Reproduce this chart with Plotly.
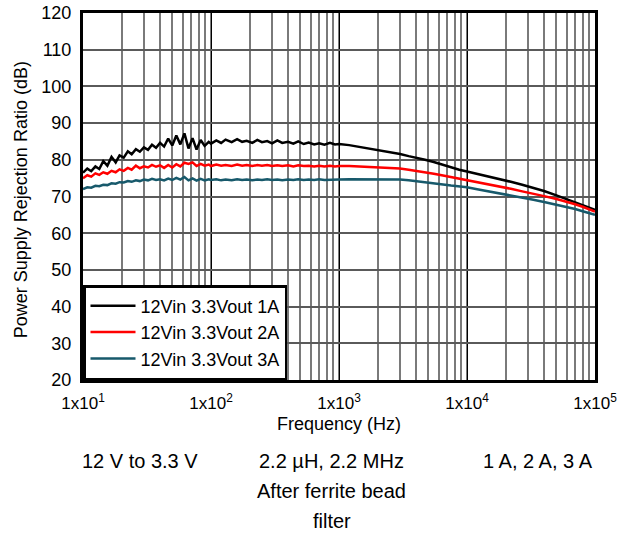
import plotly.graph_objects as go

# Frequency points (Hz)
freq = [
    10, 10.8, 11.6, 12.5, 13.4, 14.4, 15.5, 16.7, 18, 19.3, 20.8, 22.4, 24, 25.9, 27.8, 29.9,
    32.2, 34.6, 37.2, 40, 43, 46.3, 49.8, 53.6, 57.6, 62, 66.7, 71.7, 77.1, 83, 89.2, 96,
    100, 110, 120, 130, 145, 160, 175, 190, 210, 230, 250, 275, 300, 330, 360, 400, 440, 480,
    530, 580, 640, 700, 770, 850, 930,
    1000, 1200, 1400, 1600, 1900, 2200, 2600, 3000, 3500, 4000, 4700, 5500, 6500, 7500, 8700,
    10000, 12000, 15000, 18000, 22000, 27000, 33000, 40000, 50000, 60000, 70000, 80000, 90000, 100000,
]

psrr_1a = [
    76.5, 77.6, 76.9, 78.2, 77.5, 79.6, 78.4, 80.8, 79.3, 81.2, 80.6, 82.3, 81.5, 82.9, 82.2, 83.4,
    82.7, 84.1, 83.3, 84.6, 83.6, 85.8, 83.9, 86.6, 84.2, 87.2, 83.1, 85.9, 82.8, 85.4, 83.8, 84.9,
    84.4, 85.3, 84.6, 85.5, 84.8, 85.6, 84.9, 85.2, 84.6, 85.4, 84.8, 85.1, 84.5, 85.3, 84.6, 84.9,
    84.4, 85.0, 84.3, 84.7, 84.2, 84.5, 84.1, 84.6, 84.2,
    84.3, 84.0, 83.6, 83.4, 82.9, 82.5, 82.0, 81.6, 81.0, 80.6, 80.0, 79.4, 78.6, 78.0, 77.3,
    76.8, 76.2, 75.4, 74.7, 74.0, 73.2, 72.4, 71.5, 70.3, 69.3, 68.4, 67.6, 67.0, 66.4,
]

psrr_2a = [
    75.0, 75.8, 75.4, 76.3, 75.9, 76.6, 76.2, 77.0, 76.6, 77.4, 77.0, 77.8, 77.3, 78.4, 77.7, 78.2,
    77.9, 78.6, 78.1, 78.5, 77.8, 78.6, 77.9, 78.8, 78.2, 79.2, 78.9, 79.3, 78.3, 78.9, 78.4, 78.7,
    78.3, 78.7, 78.4, 78.6, 78.3, 78.7, 78.4, 78.6, 78.3, 78.6, 78.4, 78.6, 78.3, 78.5, 78.3, 78.5,
    78.2, 78.5, 78.3, 78.4, 78.2, 78.4, 78.2, 78.4, 78.2,
    78.3, 78.3, 78.2, 78.2, 78.1, 78.0, 77.8, 77.6, 77.3, 77.0, 76.6, 76.2, 75.7, 75.3, 74.9,
    74.5, 74.0, 73.3, 72.7, 72.1, 71.4, 70.8, 70.1, 69.3, 68.6, 67.9, 67.2, 66.5, 65.9,
]

psrr_3a = [
    72.0, 72.5, 72.4, 72.9, 72.8, 73.2, 73.1, 73.6, 73.5, 73.9, 73.8, 74.2, 74.0, 74.4, 74.2, 74.6,
    74.4, 74.8, 74.5, 74.7, 74.4, 74.9, 74.5, 75.1, 74.6, 75.3, 74.4, 74.9, 74.3, 74.8, 74.4, 74.7,
    74.5, 74.7, 74.4, 74.6, 74.4, 74.7, 74.5, 74.6, 74.4, 74.6, 74.5, 74.7, 74.5, 74.6, 74.4, 74.6,
    74.5, 74.7, 74.5, 74.6, 74.5, 74.7, 74.5, 74.6, 74.5,
    74.6, 74.7, 74.7, 74.8, 74.8, 74.8, 74.7, 74.6, 74.4, 74.2, 73.9, 73.6, 73.3, 73.0, 72.8,
    72.5, 72.0, 71.4, 70.9, 70.3, 69.7, 69.1, 68.5, 67.8, 67.2, 66.6, 66.0, 65.5, 65.0,
]

series_names = ["12Vin 3.3Vout 1A", "12Vin 3.3Vout 2A", "12Vin 3.3Vout 3A"]
series_colors = ["#000000", "#ff0000", "#17596b"]

x_tickvals = [10, 100, 1000, 10000, 100000]
x_ticktext = ["1x10<sup>1</sup>", "1x10<sup>2</sup>", "1x10<sup>3</sup>", "1x10<sup>4</sup>", "1x10<sup>5</sup>"]

FONT = "Arial, Liberation Sans, sans-serif"

fig = go.Figure()
for name, color, vals in zip(series_names, series_colors, [psrr_1a, psrr_2a, psrr_3a]):
    fig.add_trace(go.Scatter(x=freq, y=vals, mode="lines", name=name,
                             line=dict(color=color, width=2.5)))

# Axis titles as annotations (fixed positions like the original)
fig.add_annotation(text="Frequency (Hz)", x=0.5, y=-0.119, xref="paper", yref="paper",
                   xanchor="center", yanchor="middle", showarrow=False,
                   font=dict(size=18, family=FONT, color="#000000"))
fig.add_annotation(text="Power Supply Rejection Ratio (dB)", x=-0.121, y=0.49, xref="paper", yref="paper",
                   xanchor="center", yanchor="middle", showarrow=False, textangle=-90,
                   font=dict(size=18, family=FONT, color="#000000"))

# Notes under the chart
notes = [
    ("12 V to 3.3 V", 0.111, -0.221),
    ("2.2 µH, 2.2 MHz", 0.486, -0.221),
    ("After ferrite bead", 0.486, -0.302),
    ("filter", 0.486, -0.384),
    ("1 A, 2 A, 3 A", 0.889, -0.221),
]
for txt, nx, ny in notes:
    fig.add_annotation(text=txt, x=nx, y=ny, xref="paper", yref="paper",
                       xanchor="center", yanchor="middle", showarrow=False,
                       font=dict(size=20, color="#000000", family=FONT))

fig.update_layout(
    width=618, height=533,
    margin=dict(l=83, r=23, t=13, b=153, autoexpand=False),
    paper_bgcolor="white",
    plot_bgcolor="white",
    font=dict(family=FONT, color="#000000", size=18),
    legend=dict(x=0, y=0, xanchor="left", yanchor="bottom",
                bgcolor="white", bordercolor="#000000", borderwidth=2.5,
                font=dict(size=18), itemwidth=45, tracegroupgap=0),
    xaxis=dict(
        type="log", range=[1, 5],
        tickvals=x_tickvals, ticktext=x_ticktext,
        tickfont=dict(size=17), ticklabelstandoff=6, ticklabeloverflow="allow",
        showgrid=True, gridcolor="#000000", gridwidth=1,
        minor=dict(showgrid=True, gridcolor="#7a7a7a", gridwidth=1.5, dtick="D1"),
        showline=True, linecolor="#000000", linewidth=3, mirror=True,
        ticks="", zeroline=False, automargin=False,
    ),
    yaxis=dict(
        range=[20, 120], dtick=10,
        tickfont=dict(size=18), ticklabelstandoff=5, ticklabeloverflow="allow",
        showgrid=True, gridcolor="#5a5a5a", gridwidth=1.5,
        showline=True, linecolor="#000000", linewidth=3, mirror=True,
        ticks="", zeroline=False, automargin=False,
    ),
)

# drop the default 8px body margin so the 618x533 figure fills the window
fig.write_html("out.html", config={"displayModeBar": False},
               post_script="document.body.style.margin='0';")
